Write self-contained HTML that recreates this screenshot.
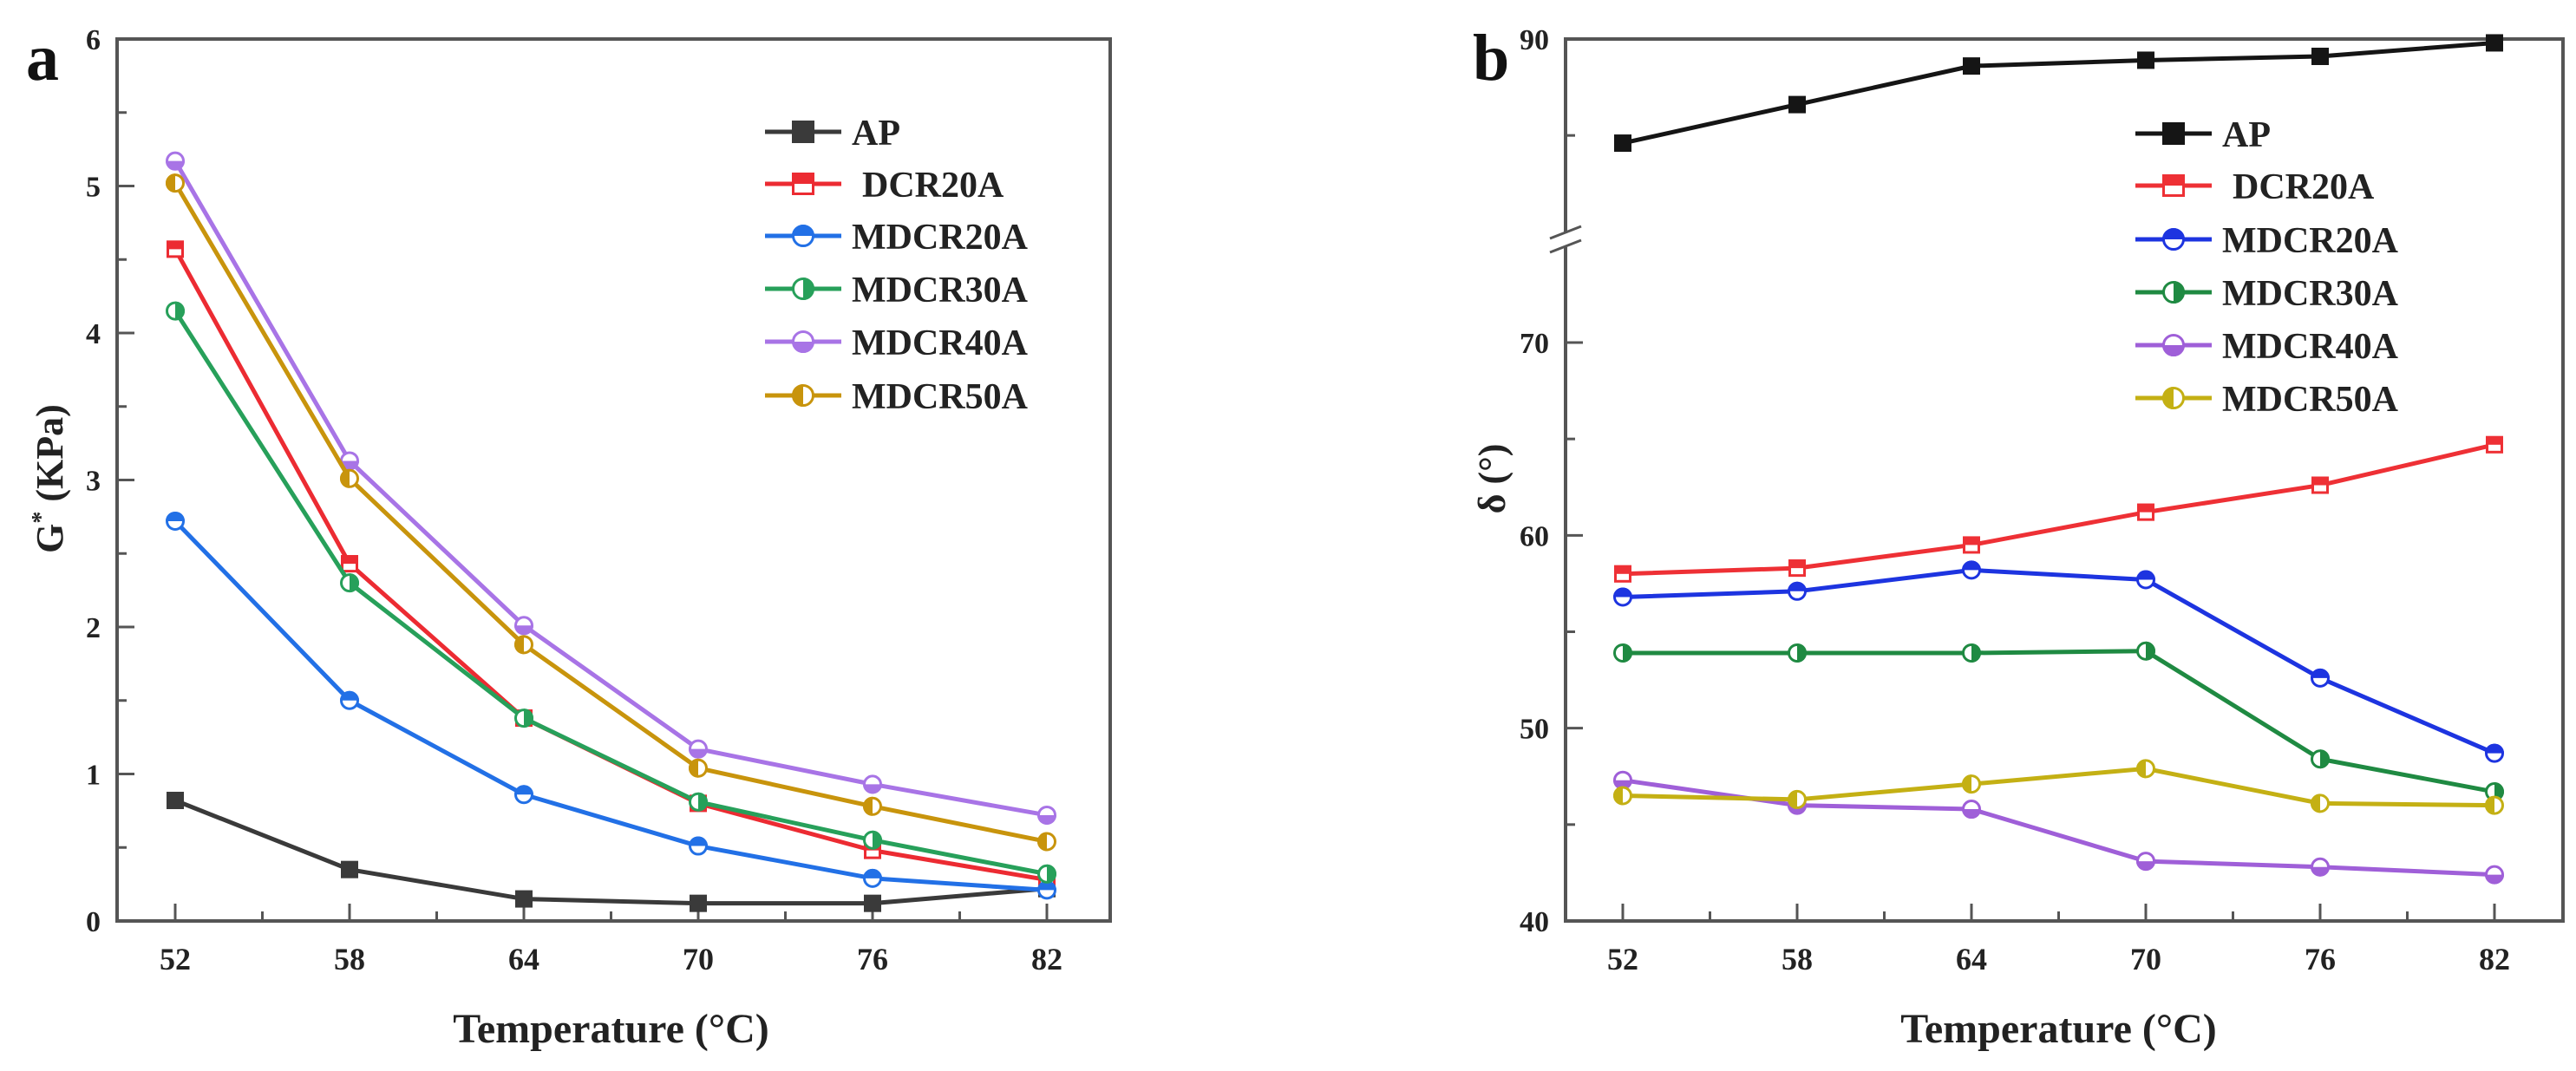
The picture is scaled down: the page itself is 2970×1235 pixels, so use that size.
<!DOCTYPE html>
<html><head><meta charset="utf-8">
<style>
html,body{margin:0;padding:0;background:#fff;}
svg{display:block;font-family:"Liberation Serif",serif;font-weight:bold;}
</style></head>
<body>
<svg id="fig" width="2970" height="1235" viewBox="0 0 2970 1235" xmlns="http://www.w3.org/2000/svg"></svg>
<script>
const temps = [52, 58, 64, 70, 76, 82];
const seriesNames = ["AP", "DCR20A", "MDCR20A", "MDCR30A", "MDCR40A", "MDCR50A"];
const gAP = [0.82, 0.35, 0.15, 0.12, 0.12, 0.22];
const gDCR20A = [4.57, 2.43, 1.38, 0.80, 0.48, 0.28];
const gMDCR20A = [2.72, 1.50, 0.86, 0.51, 0.29, 0.21];
const gMDCR30A = [4.15, 2.30, 1.38, 0.81, 0.55, 0.32];
const gMDCR40A = [5.17, 3.13, 2.01, 1.17, 0.93, 0.72];
const gMDCR50A = [5.02, 3.01, 1.88, 1.04, 0.78, 0.54];
const dAP = [84.6, 86.6, 88.6, 88.9, 89.1, 89.8];
const dDCR20A = [58.0, 58.3, 59.5, 61.2, 62.6, 64.7];
const dMDCR20A = [56.8, 57.1, 58.2, 57.7, 52.6, 48.7];
const dMDCR30A = [53.9, 53.9, 53.9, 54.0, 48.4, 46.7];
const dMDCR40A = [47.3, 46.0, 45.8, 43.1, 42.8, 42.4];
const dMDCR50A = [46.5, 46.3, 47.1, 47.9, 46.1, 46.0];
const gTicks = [0, 1, 2, 3, 4, 5, 6];
const dTicksLow = [40, 50, 60, 70];
const dTicksHigh = [90];

const NS = "http://www.w3.org/2000/svg";
const svg = document.getElementById("fig");
function mk(tag, attrs, parent, name){
  const e = document.createElementNS(NS, tag);
  for (const k in attrs) e.setAttribute(k, attrs[k]);
  
  
  (parent || svg).appendChild(e);
  return e;
}
function txt(s, attrs, parent, name){ const t = mk("text", attrs, parent, name); t.textContent = s; return t; }

function marker(g, x, y, color, kind, half, r, name){
  const grp = mk("g", {}, g, name);
  if (kind === "square") {
    if (half === "none") {
      mk("rect", {x:x-r, y:y-r, width:2*r, height:2*r, fill:color}, grp, name + '-fill');
    } else {
      mk("rect", {x:x-r+1.5, y:y-r+1.5, width:2*r-3, height:2*r-3, fill:"#fff", stroke:color, "stroke-width":3}, grp, name + '-outline');
      mk("rect", {x:x-r, y:y-r, width:2*r, height:r, fill:color}, grp, name + '-half');
    }
  } else {
    mk("circle", {cx:x, cy:y, r:r-1.5, fill:"#fff", stroke:color, "stroke-width":3}, grp, name + '-outline');
    let d;
    if (half === "top") d = `M${x-r},${y} A${r},${r} 0 0 1 ${x+r},${y} Z`;
    else if (half === "bottom") d = `M${x-r},${y} A${r},${r} 0 0 0 ${x+r},${y} Z`;
    else if (half === "left") d = `M${x},${y-r} A${r},${r} 0 0 0 ${x},${y+r} Z`;
    else d = `M${x},${y-r} A${r},${r} 0 0 1 ${x},${y+r} Z`;
    mk("path", {d:d, fill:color}, grp, name + '-half');
  }
}

function drawPanel(cfg){
  const g = mk("g", {}, svg, cfg.name);
  const L = cfg.L, R = cfg.R, T = cfg.T, B = cfg.B;
  const xs = v => cfg.x0 + (v - 52) / 30 * (cfg.x1 - cfg.x0);
  if (cfg.breakY) {
    mk("path", {d:`M${L},${cfg.breakY-8} L${L},${T} L${R},${T} L${R},${B} L${L},${B} L${L},${cfg.breakY+8}`, fill:"none", stroke:"#555", "stroke-width":4}, g, "plot-frame");
    mk("line", {x1:L-18, y1:cfg.breakY-2, x2:L+18, y2:cfg.breakY-16, stroke:"#555", "stroke-width":3}, g, "axis-break-mark");
    mk("line", {x1:L-18, y1:cfg.breakY+14, x2:L+18, y2:cfg.breakY, stroke:"#555", "stroke-width":3}, g, "axis-break-mark");
  } else {
    mk("rect", {x:L, y:T, width:R-L, height:B-T, fill:"none", stroke:"#555", "stroke-width":4}, g, "plot-frame");
  }
  temps.forEach((t, i) => {
    const x = xs(t);
    mk("line", {x1:x, y1:B, x2:x, y2:B-20, stroke:"#555", "stroke-width":3}, g, "x-tick");
    txt(String(t), {x:x, y:B+56, "font-size":36, "text-anchor":"middle", fill:"#222"}, g, "x-tick-label");
    if (i < temps.length - 1) {
      const xm = xs(t + 3);
      mk("line", {x1:xm, y1:B, x2:xm, y2:B-11, stroke:"#555", "stroke-width":3}, g, "x-minor-tick");
    }
  });
  cfg.yTicks.forEach(tk => {
    const y = cfg.ys(tk.v);
    mk("line", {x1:L, y1:y, x2:L+20, y2:y, stroke:"#555", "stroke-width":3}, g, "y-tick");
    txt(String(tk.v), {x:cfg.labelX, y:y+12, "font-size":34, "text-anchor":"end", fill:"#222"}, g, "y-tick-label");
  });
  cfg.yMinor.forEach(v => {
    const y = cfg.ys(v);
    mk("line", {x1:L, y1:y, x2:L+11, y2:y, stroke:"#555", "stroke-width":3}, g, "y-minor-tick");
  });
  cfg.series.forEach((s, si) => {
    const sg = mk("g", {}, g, "series-" + seriesNames[si].toLowerCase());
    const pts = s.vals.map((v, i) => [xs(temps[i]), cfg.ys(v)]);
    mk("polyline", {points:pts.map(p => p.join(",")).join(" "), fill:"none", stroke:s.color, "stroke-width":5, "stroke-linejoin":"round"}, sg, "series-line");
    pts.forEach(p => marker(sg, p[0], p[1], s.color, s.kind, s.half, s.kind === "square" ? 10 : 11, "data-point"));
  });
  const lg = mk("g", {}, g, "legend");
  cfg.series.forEach((s, si) => {
    const y = cfg.legY[si];
    const eg = mk("g", {}, lg, "legend-entry");
    mk("line", {x1:cfg.legX, y1:y, x2:cfg.legX+88, y2:y, stroke:s.color, "stroke-width":5}, eg, "legend-line");
    marker(eg, cfg.legX+44, y, s.color, s.kind, s.half, 13, "legend-marker");
    txt(seriesNames[si], {x:cfg.legX+100 + (si === 1 ? 12 : 0), y:y+15, "font-size":42, fill:"#222"}, eg, "legend-label");
  });
  txt("Temperature (°C)", {x:(cfg.x0+cfg.x1)/2, y:1202, "font-size":48, "text-anchor":"middle", fill:"#222"}, g, "x-axis-title");
  const yt = mk("text", {x:cfg.yTitleX, y:552, "font-size":44, "text-anchor":"middle", fill:"#222", transform:`rotate(-90 ${cfg.yTitleX} 552)`}, g, "y-axis-title");
  cfg.yTitleParts.forEach(p => {
    const ts = mk("tspan", p.sup ? {"font-size":28, dy:-16} : (p.after ? {dy:16} : {}), yt, "y-axis-title-part");
    ts.textContent = p.t;
  });
  txt(cfg.panel, {x:cfg.panelX, y:92, "font-size":76, fill:"#111"}, g, "panel-label");
}

const aT = 45, aB = 1062;
drawPanel({
  name:"chart-a-complex-modulus", L:135, R:1280, T:aT, B:aB, x0:202, x1:1207,
  ys: v => aB - v / 6 * (aB - aT),
  yTicks: gTicks.map(v => ({v})),
  yMinor: [0.5,1.5,2.5,3.5,4.5,5.5],
  labelX:116,
  series:[
    {vals:gAP, color:"#3a3a3a", kind:"square", half:"none"},
    {vals:gDCR20A, color:"#ec2b32", kind:"square", half:"top"},
    {vals:gMDCR20A, color:"#2270e6", kind:"circle", half:"top"},
    {vals:gMDCR30A, color:"#27a05a", kind:"circle", half:"right"},
    {vals:gMDCR40A, color:"#a874e6", kind:"circle", half:"bottom"},
    {vals:gMDCR50A, color:"#c8940c", kind:"circle", half:"left"}
  ],
  legX:882, legY:[152,212,272,333,394,456],
  yTitleParts:[{t:"G"},{t:"*",sup:true},{t:" (KPa)",after:true}], yTitleX:72, panel:"a", panelX:30
});

const bT = 45, bB = 1062, perUnit = (1062 - 395) / 30;
function ysB(v){
  if (v >= 78) return bT + (90 - v) * perUnit;
  return bB - (v - 40) * perUnit;
}
drawPanel({
  name:"chart-b-phase-angle", L:1805, R:2955, T:bT, B:bB, x0:1871, x1:2876,
  ys: ysB, breakY:277,
  yTicks: dTicksLow.concat(dTicksHigh).map(v => ({v})),
  yMinor: [45,55,65,85],
  labelX:1786,
  series:[
    {vals:dAP, color:"#151515", kind:"square", half:"none"},
    {vals:dDCR20A, color:"#ee3035", kind:"square", half:"top"},
    {vals:dMDCR20A, color:"#1d34e0", kind:"circle", half:"top"},
    {vals:dMDCR30A, color:"#1f8a42", kind:"circle", half:"right"},
    {vals:dMDCR40A, color:"#9f5fd8", kind:"circle", half:"bottom"},
    {vals:dMDCR50A, color:"#c4b014", kind:"circle", half:"left"}
  ],
  legX:2462, legY:[154,214,276,337,398,459],
  yTitleParts:[{t:"δ (°)"}], yTitleX:1735, panel:"b", panelX:1698
});
</script>
</body></html>
